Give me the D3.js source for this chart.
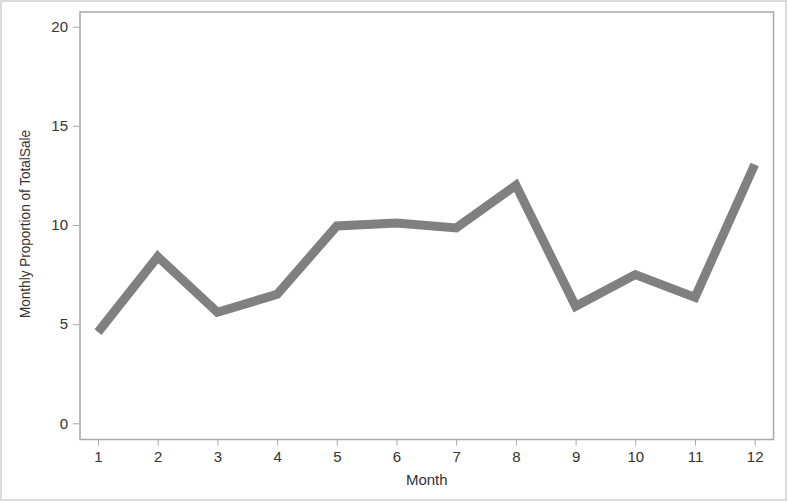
<!DOCTYPE html>
<html><head><meta charset="utf-8">
<script src="https://cdn.jsdelivr.net/npm/d3@7"></script>
<style>body{margin:0;background:#fff}svg{display:block}text{font-family:"Liberation Sans",Arial,sans-serif;fill:#333}</style>
</head><body>
<svg id="c" width="788" height="502"></svg>
<script>
const months = [1,2,3,4,5,6,7,8,9,10,11,12];
const proportion = [4.6,8.4,5.6,6.5,9.95,10.1,9.85,12.0,5.9,7.5,6.35,13.05];
const yTicks = [0,5,10,15,20];
const xTitle = "Month";
const yTitle = "Monthly Proportion of TotalSale";

const svg = d3.select("#c");
const frame = {l:80, t:12, r:773.5, b:439.5};
const x = d3.scaleLinear().domain([1,12]).range([98,754.7]);
const y = d3.scaleLinear().domain([0,20]).range([423.3,26.7]);

svg.append("rect").attr("x",1).attr("y",1).attr("width",785).attr("height",499)
  .attr("fill","none").attr("stroke","#cfcfcf").attr("stroke-width",1.5);

const gx = svg.append("g").attr("transform",`translate(0,${frame.b})`)
  .call(d3.axisBottom(x).tickValues(months).tickSize(6).tickPadding(6).tickFormat(d3.format("d")));
const gy = svg.append("g").attr("transform",`translate(${frame.l},0)`)
  .call(d3.axisLeft(y).tickValues(yTicks).tickSize(7).tickPadding(5).tickFormat(d3.format("d")));
[gx,gy].forEach(g=>{
  g.select(".domain").remove();
  g.selectAll(".tick line").attr("stroke","#a8a8a8");
  g.selectAll(".tick text").attr("font-size",15).attr("fill","#333").style("font-family","'Liberation Sans',Arial,sans-serif");
});

svg.append("rect").attr("x",frame.l).attr("y",frame.t)
  .attr("width",frame.r-frame.l).attr("height",frame.b-frame.t)
  .attr("fill","none").attr("stroke","#a8a8a8").attr("stroke-width",1.5);

const line = d3.line().x((d,i)=>x(months[i])).y(d=>y(d));
svg.append("path").datum(proportion).attr("d",line)
  .attr("fill","none").attr("stroke","#808080").attr("stroke-width",9)
  .attr("stroke-linejoin","miter").attr("stroke-linecap","butt");

svg.append("text").attr("x",(frame.l+frame.r)/2).attr("y",485)
  .attr("text-anchor","middle").attr("font-size",15).text(xTitle);
svg.append("text").attr("transform","translate(30,224) rotate(-90)")
  .attr("text-anchor","middle").attr("font-size",14)
  .attr("textLength",188).attr("lengthAdjust","spacingAndGlyphs").text(yTitle);
</script>
</body></html>
